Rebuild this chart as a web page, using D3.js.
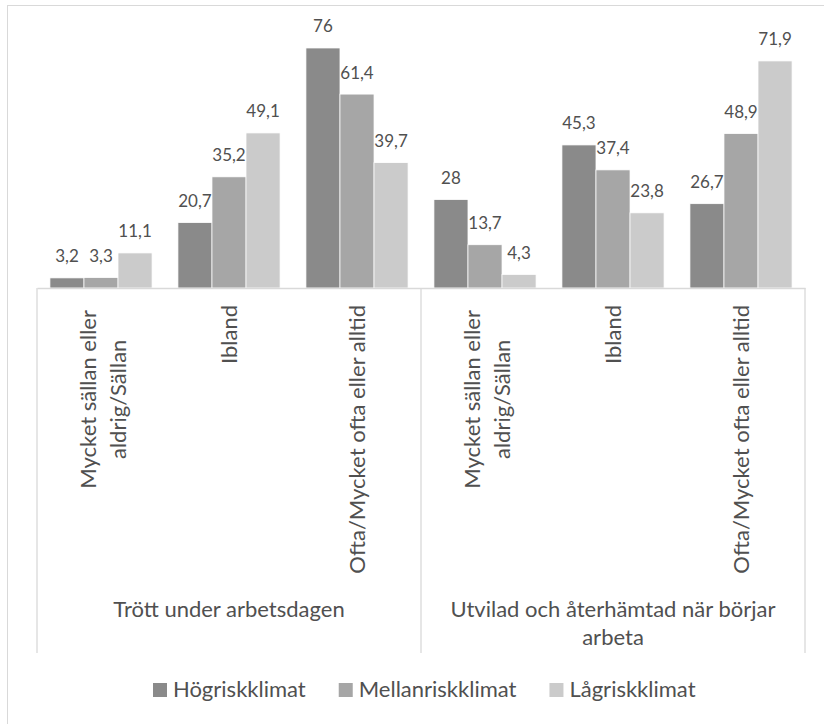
<!DOCTYPE html>
<html>
<head>
<meta charset="utf-8">
<script src="https://cdn.jsdelivr.net/npm/d3@7"></script>
<style>
  html, body { margin: 0; padding: 0; background: #fff; }
  svg { display: block; }
  text { font-family: Lato, "Open Sans", sans-serif; fill: #505050; }
</style>
</head>
<body>
<svg id="chart" width="824" height="724"></svg>
<script>
// ---- data ----
const groups = ["Trött under arbetsdagen", "Utvilad och återhämtad när börjar arbeta"];
const groupLabelLines = [["Trött under arbetsdagen"], ["Utvilad och återhämtad när börjar", "arbeta"]];
const answerLabelLines = [["Mycket sällan eller", "aldrig/Sällan"], ["Ibland"], ["Ofta/Mycket ofta eller alltid"]];
const series = ["Högriskklimat", "Mellanriskklimat", "Lågriskklimat"];
const hogrisk = [3.2, 20.7, 76, 28, 45.3, 26.7];
const mellanrisk = [3.3, 35.2, 61.4, 13.7, 37.4, 48.9];
const lagrisk = [11.1, 49.1, 39.7, 4.3, 23.8, 71.9];
const colors = ["#8a8a8a", "#a6a6a6", "#cbcbcb"];

// ---- build table ----
const cats = [];
groups.forEach((g, gi) => answerLabelLines.forEach((a, ai) => cats.push({ id: gi + "-" + ai, group: gi, lines: a })));
const values = [hogrisk, mellanrisk, lagrisk];
const rows = cats.map((c, i) => ({ ...c, vals: series.map((s, si) => ({ key: s, si, v: values[si][i] })) }));

const svg = d3.select("#chart");

// frame
svg.append("rect").attr("x", 7.5).attr("y", 5.5).attr("width", 900).attr("height", 900)
  .attr("fill", "none").attr("stroke", "#d9d9d9").attr("stroke-width", 1);

const plotL = 37, plotR = 805, base = 288;
const x0 = d3.scaleBand().domain(cats.map(c => c.id)).range([plotL, plotR]).padding(0);
const x1 = d3.scaleBand().domain(series).range([0, x0.bandwidth()]).paddingInner(0).paddingOuter(0.38);
const y = d3.scaleLinear().domain([0, 80]).range([base, base - 80 * 3.158]);
const xg = d3.scaleBand().domain(groups.map((g, i) => i)).range([plotL, plotR]).padding(0);

// bars
const cg = svg.append("g").selectAll("g").data(rows).join("g")
  .attr("transform", d => `translate(${x0(d.id)},0)`);
cg.selectAll("rect").data(d => d.vals).join("rect")
  .attr("x", d => x1(d.key))
  .attr("y", d => y(d.v))
  .attr("width", x1.bandwidth())
  .attr("height", d => base - y(d.v))
  .attr("fill", d => colors[d.si])
  .attr("stroke", "#fff").attr("stroke-width", 0.75);

// value labels
const fmt = v => String(v).replace(".", ",");
cg.selectAll("text.val").data(d => d.vals).join("text")
  .attr("class", "val")
  .attr("x", d => x1(d.key) + x1.bandwidth() / 2)
  .attr("y", d => y(d.v) - 15.5)
  .attr("text-anchor", "middle")
  .style("font-size", "17px")
  .text(d => fmt(d.v));

// axis line
const axis = d3.axisBottom(x0).tickSize(0).tickSizeOuter(0).tickFormat("");
const ag = svg.append("g").attr("transform", `translate(0,${base})`).call(axis);
ag.select(".domain").attr("stroke", "#d9d9d9").attr("stroke-width", 1.3);
ag.selectAll(".tick").remove();

// group separators
const seps = [plotL, ...groups.map((g, i) => xg(i) + xg.bandwidth())];
svg.append("g").selectAll("line").data(seps).join("line")
  .attr("x1", d => d).attr("x2", d => d)
  .attr("y1", base).attr("y2", 653)
  .attr("stroke", "#d9d9d9").attr("stroke-width", 1.3);

// category labels (rotated)
const lh = 30;
rows.forEach(r => {
  const cx = x0(r.id) + x0.bandwidth() / 2 + (r.lines.length > 1 ? 2 : 0);
  const g = svg.append("g");
  const ts = r.lines.map((line, i) => {
    const xx = cx + (i - (r.lines.length - 1) / 2) * lh;
    return g.append("text")
      .attr("text-anchor", "middle")
      .attr("dy", "0.35em")
      .style("font-size", "22px")
      .text(line)
      .datum(xx);
  });
  const maxW = d3.max(ts, t => t.node().getComputedTextLength());
  const cy = 305 + maxW / 2 + (r.lines.length > 1 ? 5 : 0);
  ts.forEach(t => t.attr("transform", `translate(${t.datum()},${cy}) rotate(-90)`));
});

// group labels
groupLabelLines.forEach((lines, gi) => {
  const cx = xg(gi) + xg.bandwidth() / 2;
  lines.forEach((line, li) => {
    svg.append("text")
      .attr("x", cx).attr("y", 617 + li * 28)
      .attr("text-anchor", "middle")
      .style("font-size", "22px")
      .text(line);
  });
});

// legend
const leg = svg.append("g");
let lx = 153;
series.forEach((s, si) => {
  leg.append("rect").attr("x", lx).attr("y", 683).attr("width", 14).attr("height", 14).attr("fill", colors[si]);
  const t = leg.append("text").attr("x", lx + 20).attr("y", 697).style("font-size", "22px").text(s);
  lx += 20 + t.node().getComputedTextLength() + 33;
});
</script>
</body>
</html>
